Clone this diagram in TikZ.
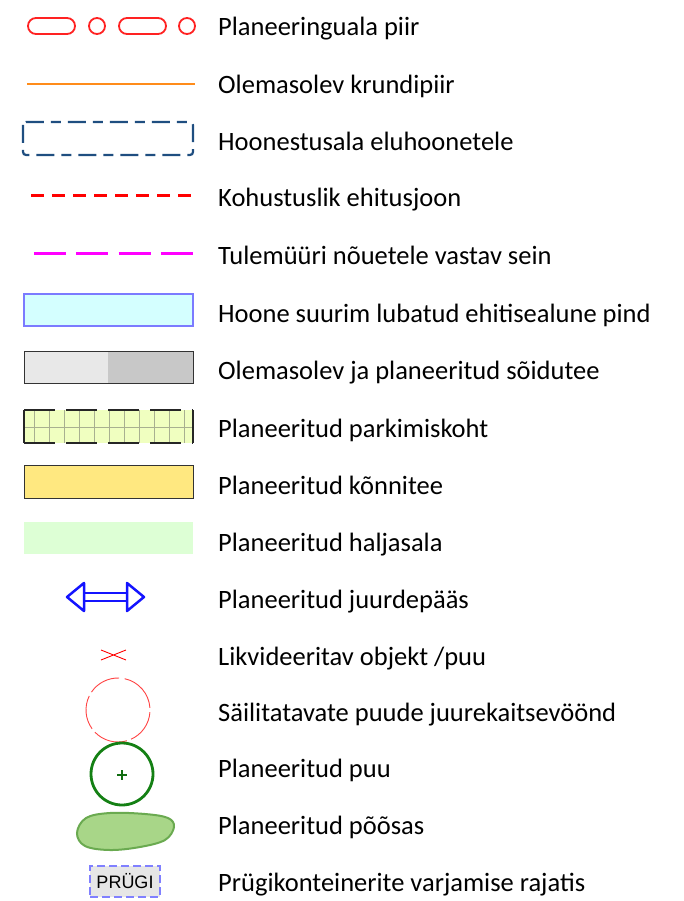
\documentclass[tikz,border=0pt]{standalone}
\usepackage{fontspec}
\setmainfont{Carlito}
\newfontfamily\boxfont{Liberation Sans}
\usepackage{tikz}
\usetikzlibrary{arrows.meta}

\definecolor{piirred}{HTML}{FF2222}
\definecolor{krundorange}{HTML}{FF8C1A}
\definecolor{hoonblue}{HTML}{1F4E80}
\definecolor{seinmagenta}{HTML}{FF00FF}
\definecolor{pindfill}{HTML}{D4FFFF}
\definecolor{pindline}{HTML}{7B7BFF}
\definecolor{teelight}{HTML}{E8E8E8}
\definecolor{teedark}{HTML}{C8C8C8}
\definecolor{parkfill}{HTML}{F0FFC0}
\definecolor{parkgrid}{HTML}{A8B090}
\definecolor{konnfill}{HTML}{FFE880}
\definecolor{haljfill}{HTML}{DDFFD5}
\definecolor{paasblue}{HTML}{1414FF}
\definecolor{puugreen}{HTML}{148014}
\definecolor{poosfill}{HTML}{A8D688}
\definecolor{poosline}{HTML}{6AAA50}
\definecolor{prugiline}{HTML}{8080FF}
\definecolor{prugifill}{HTML}{E6E6E6}

\tikzset{
  legendtext/.style={anchor=base west, inner sep=0pt, font=\fontsize{26.5}{30}\selectfont},
  piirline/.style={draw=piirred, line width=1.8pt},
  boxline/.style={line width=1pt, draw=black!80}
}

\begin{document}
\begin{tikzpicture}[x=1pt, y=-1pt]
\useasboundingbox (0,0) rectangle (683,901);
% planeeringuala piir
\draw[piirline, rounded corners=8pt] (28,18) rectangle (75,34);
\draw[piirline] (97,26) circle (8);
\draw[piirline, rounded corners=8pt] (119,18) rectangle (166,34);
\draw[piirline] (187,26) circle (8);
% krundipiir
\draw[krundorange, line width=1.5pt] (27,84) -- (195,84);
% hoonestusala
\draw[hoonblue, line width=2.2pt, rounded corners=3pt, dash pattern=on 18pt off 7pt on 10pt off 7pt]
  (23,122) rectangle (193,155);
% ehitusjoon, tulemuur
\draw[red, line width=3pt, dash pattern=on 13pt off 8pt] (31,196) -- (193,196);
\draw[seinmagenta, line width=3pt, dash pattern=on 32pt off 10.3pt] (34,253) -- (193,253);
% suurim pind
\draw[fill=pindfill, draw=pindline, line width=1.5pt] (24,294) rectangle (193,326);
% soidutee
\fill[teelight] (24,351) rectangle (108,383);
\fill[teedark] (108,351) rectangle (193,383);
\draw[boxline] (24,351) rectangle (193,383);
% parkimiskoht
\fill[parkfill] (24,410) rectangle (193,443);
\foreach \gx in {34,49,...,184}
  \draw[parkgrid, line width=1pt] (\gx,410) -- (\gx,443);
\draw[parkgrid, line width=1pt] (24,427) -- (193,427);
\draw[black!85, line width=1.2pt, dash pattern=on 31pt off 11pt] (24,410) -- (193,410);
\draw[black!85, line width=1.2pt, dash pattern=on 31pt off 11pt] (24,443) -- (193,443);
\draw[black!85, line width=1.2pt] (24,410) -- (24,443) (193,410) -- (193,443);
% konnitee, haljasala
\draw[fill=konnfill, boxline] (24,465) rectangle (193,498);
\fill[haljfill] (24,522) rectangle (193,554);
% juurdepaas
\coordinate (paasL) at (84,597);
\coordinate (paasR) at (127,597);
\draw[paasblue, line width=2.5pt, line join=round]
  (67,597) -- (84,583) -- (84,611) -- cycle
  (144,597) -- (127,583) -- (127,611) -- cycle;
\draw[paasblue, line width=2.5pt] ([yshift=-4pt]paasL) -- ([yshift=-4pt]paasR)
  ([yshift=4pt]paasL) -- ([yshift=4pt]paasR);
% likvideeritav
\draw[red, line width=0.9pt] (101,650) -- (126,660) (101,660) -- (126,650);
% juurekaitsevoond
\foreach \a/\b in {4/66, 74/136, 144/206, 214/272, 282/356}
  \draw[piirred!85, line width=0.9pt] ([shift={(\a:32)}]118,710) arc[start angle=\a, end angle=\b, radius=32];
% planeeritud puu
\draw[puugreen, line width=2.8pt] (122,774) circle (31);
\draw[puugreen!85!black, line width=2.6pt] (117,775) -- (127,775) (122,770) -- (122,780);
% poosas
\draw[fill=poosfill, draw=poosline, line width=2pt]
  plot[smooth cycle, tension=0.6] coordinates {(77,833) (86,818) (110,813) (145,814) (168,818)
    (174,827) (165,840) (140,847) (110,850) (85,846)};
% prugi
\node[draw=prugiline, fill=prugifill, line width=2.5pt, dash pattern=on 8pt off 4pt,
  minimum width=70pt, minimum height=31pt, inner sep=0pt,
  font=\boxfont\fontsize{18}{20}\selectfont] (prugi) at (125,881.5) {PRÜGI};
% texts
\node[legendtext] (t1) at (218,36) {Planeeringuala piir};
\node[legendtext] (t2) at (218,94) {Olemasolev krundipiir};
\node[legendtext] (t3) at (218,151) {Hoonestusala eluhoonetele};
\node[legendtext] (t4) at (218,207) {Kohustuslik ehitusjoon};
\node[legendtext] (t5) at (218,264) {Tulemüüri nõuetele vastav sein};
\node[legendtext] (t6) at (218,322) {Hoone suurim lubatud ehitisealune pind};
\node[legendtext] (t7) at (218,379) {Olemasolev ja planeeritud sõidutee};
\node[legendtext] (t8) at (218,437) {Planeeritud parkimiskoht};
\node[legendtext] (t9) at (218,494) {Planeeritud kõnnitee};
\node[legendtext] (t10) at (218,551) {Planeeritud haljasala};
\node[legendtext] (t11) at (218,608) {Planeeritud juurdepääs};
\node[legendtext] (t12) at (218,665) {Likvideeritav objekt /puu};
\node[legendtext] (t13) at (218,721) {Säilitatavate puude juurekaitsevöönd};
\node[legendtext] (t14) at (218,777) {Planeeritud puu};
\node[legendtext] (t15) at (218,834) {Planeeritud põõsas};
\node[legendtext] (t16) at (218,891) {Prügikonteinerite varjamise rajatis};
\end{tikzpicture}
\end{document}
